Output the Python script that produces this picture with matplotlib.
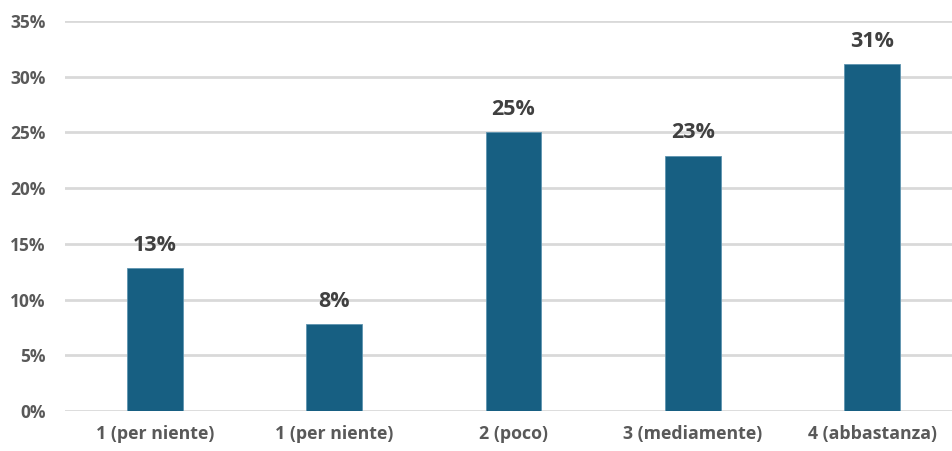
import matplotlib.pyplot as plt
import numpy as np

categories = ["1 (per niente)", "1 (per niente)", "2 (poco)", "3 (mediamente)", "4 (abbastanza)"]
values = [12.8, 7.8, 25.0, 22.9, 31.1]
labels = ["13%", "8%", "25%", "23%", "31%"]
yticks = [0, 5, 10, 15, 20, 25, 30, 35]

plt.rcParams['font.family'] = ['Open Sans', 'DejaVu Sans']
plt.rcParams['font.weight'] = 'bold'

W, H = 953, 451
fig = plt.figure(figsize=(W / 100, H / 100), dpi=100)
left, right = 65, 962
bottom, top = 411, 21
ax = fig.add_axes([left / W, (H - bottom) / H, (right - left) / W, (bottom - top) / H])

x = np.arange(len(categories))
ax.bar(x, values, width=0.31, color='#175F82', edgecolor='#5E94B0', linewidth=0.6, zorder=3)
for xi, v, lab in zip(x, values, labels):
    ax.annotate(lab, (xi, v), xytext=(0, 9), textcoords='offset points',
                ha='center', va='bottom', fontsize=15.5, fontweight='bold', color='#404040')

ax.set_xlim(-0.5, len(categories) - 0.5)
ax.set_ylim(0, 35)
ax.set_yticks(yticks)
ax.set_yticklabels([f"{t}%" for t in yticks], fontweight='bold', fontsize=12.5, color='#595959')
ax.set_xticks(x)
ax.set_xticklabels(categories, fontweight='bold', fontsize=12.8, color='#595959')
ax.grid(axis='y', color='#D9D9D9', linewidth=2, zorder=0)
ax.tick_params(length=0)
ax.tick_params(axis='x', pad=10)
ax.tick_params(axis='y', pad=14)
for s in ax.spines.values():
    s.set_visible(False)

fig.savefig('out.png', dpi=100)
